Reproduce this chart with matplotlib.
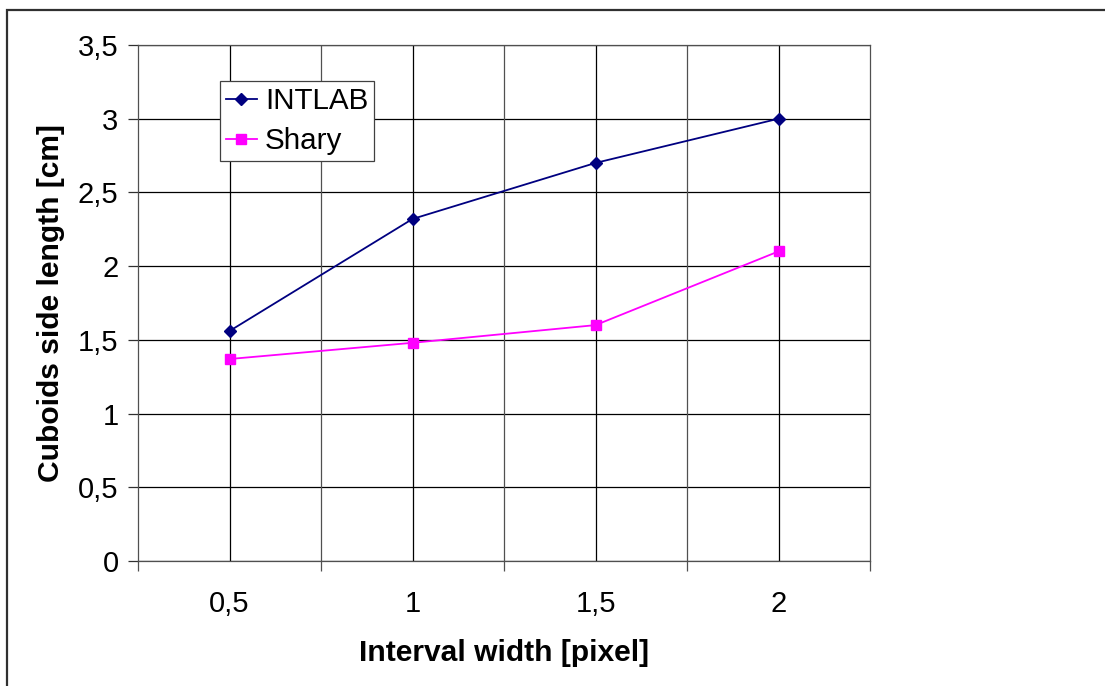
import matplotlib
matplotlib.use("Agg")
import matplotlib.pyplot as plt
from matplotlib.patches import Rectangle

categories = ["0,5", "1", "1,5", "2"]
intlab = [1.56, 2.32, 2.70, 3.00]
shary = [1.37, 1.48, 1.60, 2.10]
yticks = [0, 0.5, 1, 1.5, 2, 2.5, 3, 3.5]
ytick_labels = ["0", "0,5", "1", "1,5", "2", "2,5", "3", "3,5"]

plt.rcParams['font.family'] = ['Liberation Sans', 'DejaVu Sans']

W, H = 1105, 686
fig = plt.figure(figsize=(W / 100, H / 100), dpi=100)
fig.patch.set_facecolor('white')

# outer chart border
fig.add_artist(Rectangle((7 / W, -0.1), 1.2, 1 - 10 / H + 0.1,
                         transform=fig.transFigure, fill=False,
                         edgecolor='#303030', linewidth=1.6))

ax = fig.add_axes([138 / W, (H - 561) / H, (870 - 138) / W, (561 - 45) / H])
x = list(range(len(categories)))

ax.set_xlim(-0.5, len(categories) - 0.5)
ax.set_ylim(0, 3.5)

# gridlines
for yv in yticks:
    ax.axhline(yv, color='black', lw=0.9, zorder=1)
for xv in x:
    ax.axvline(xv, color='black', lw=0.9, zorder=1)
for xv in [i + 0.5 for i in x[:-1]]:
    ax.axvline(xv, color='#505050', lw=0.9, zorder=1)

ax.plot(x, intlab, color='#000080', lw=1.3, marker='D', markersize=6,
        markeredgecolor='#000080', label='INTLAB', zorder=3)
ax.plot(x, shary, color='#FF00FF', lw=1.3, marker='s', markersize=7,
        markeredgecolor='#FF00FF', label='Shary', zorder=3)

for s in ax.spines.values():
    s.set_color('#505050')
    s.set_linewidth(0.9)

ax.set_yticks(yticks)
ax.set_yticklabels(ytick_labels)
ax.tick_params(axis='y', length=7, width=0.9, color='#303030', pad=7, labelsize=21)

ax.set_xticks([i - 0.5 for i in x] + [x[-1] + 0.5])
ax.set_xticklabels([])
ax.tick_params(axis='x', which='major', length=7, width=0.9, color='#505050')
ax.set_xticks(x, minor=True)
ax.set_xticklabels(categories, minor=True)
ax.tick_params(axis='x', which='minor', length=0, pad=21, labelsize=21)

ax.set_xlabel('Interval width [pixel]', fontsize=21.6, fontweight='bold', labelpad=15)
ax.set_ylabel('Cuboids side length [cm]', fontsize=21.6, fontweight='bold', labelpad=9)

leg = ax.legend(loc='upper left', bbox_to_anchor=((220 - 138) / (870 - 138), 1 - (81 - 45) / (561 - 45)),
                fontsize=21.3, frameon=True, fancybox=False, framealpha=1,
                edgecolor='#404040', handlelength=1.05, handletextpad=0.27,
                borderpad=0.2, labelspacing=0.42, borderaxespad=0)
leg.get_frame().set_linewidth(0.9)

fig.savefig('out.png', dpi=100)
